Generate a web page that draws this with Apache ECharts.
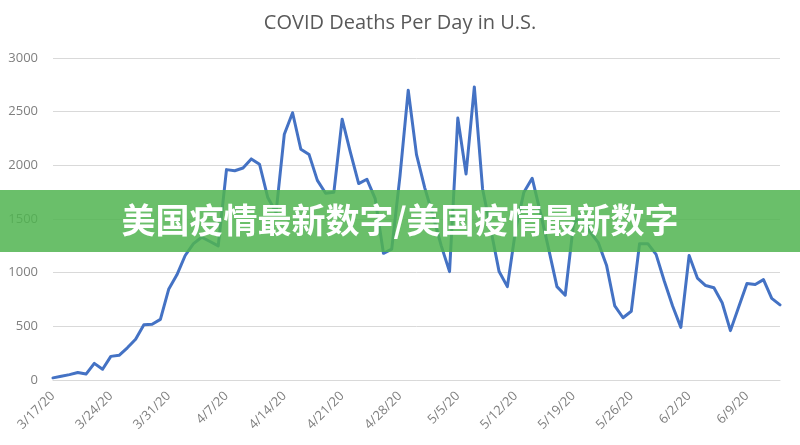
<!DOCTYPE html>
<html>
<head>
<meta charset="utf-8">
<script src="https://cdn.jsdelivr.net/npm/echarts@6/dist/echarts.min.js"></script>
<style>
html,body{margin:0;padding:0;background:#fff;}
#chart{width:800px;height:445px;}
</style>
</head>
<body>
<div id="chart"></div>
<script>
const titleText = 'COVID Deaths Per Day in U.S.';
const bannerText = '美国疫情最新数字/美国疫情最新数字';
const dates = [
'3/17/20','3/18/20','3/19/20','3/20/20','3/21/20','3/22/20','3/23/20','3/24/20','3/25/20','3/26/20','3/27/20','3/28/20','3/29/20','3/30/20','3/31/20',
'4/1/20','4/2/20','4/3/20','4/4/20','4/5/20','4/6/20','4/7/20','4/8/20','4/9/20','4/10/20','4/11/20','4/12/20','4/13/20','4/14/20','4/15/20',
'4/16/20','4/17/20','4/18/20','4/19/20','4/20/20','4/21/20','4/22/20','4/23/20','4/24/20','4/25/20','4/26/20','4/27/20','4/28/20','4/29/20','4/30/20',
'5/1/20','5/2/20','5/3/20','5/4/20','5/5/20','5/6/20','5/7/20','5/8/20','5/9/20','5/10/20','5/11/20','5/12/20','5/13/20','5/14/20','5/15/20',
'5/16/20','5/17/20','5/18/20','5/19/20','5/20/20','5/21/20','5/22/20','5/23/20','5/24/20','5/25/20','5/26/20','5/27/20','5/28/20','5/29/20','5/30/20','5/31/20',
'6/1/20','6/2/20','6/3/20','6/4/20','6/5/20','6/6/20','6/7/20','6/8/20','6/9/20','6/10/20','6/11/20','6/12/20','6/13/20'
];
const deaths = [
20,35,50,70,55,155,100,220,230,300,380,515,520,565,845,
980,1160,1270,1330,1290,1250,1960,1950,1975,2060,2010,1700,1560,2290,2490,
2150,2100,1860,1740,1750,2430,2120,1830,1870,1690,1180,1220,1900,2700,2100,
1790,1530,1250,1010,2440,1920,2730,1780,1400,1010,870,1400,1750,1880,1560,
1220,870,790,1450,1550,1380,1280,1070,690,580,640,1270,1270,1170,920,690,
490,1160,950,880,860,720,460,680,900,890,935,760,700
];
const yTicks = [0, 500, 1000, 1500, 2000, 2500, 3000];

const chart = echarts.init(document.getElementById('chart'), null, {renderer:'canvas'});
const font = '"Open Sans", "Liberation Sans", sans-serif';
chart.setOption({
  animation: false,
  backgroundColor: '#ffffff',
  title: {
    text: titleText,
    left: 'center',
    top: 8,
    textStyle: {fontFamily: font, fontSize: 20, fontWeight: 'normal', color: '#595959'}
  },
  grid: {left: 53, right: 20, top: 58, bottom: 65, containLabel: false},
  xAxis: {
    type: 'category',
    data: dates,
    boundaryGap: false,
    axisLine: {show: true, lineStyle: {color: '#d9d9d9', width: 1}},
    axisTick: {show: false},
    splitLine: {show: false},
    axisLabel: {
      interval: 6,
      rotate: 45,
      margin: 14,
      color: '#7f7f7f',
      fontFamily: font,
      fontSize: 13
    }
  },
  yAxis: {
    type: 'value',
    min: yTicks[0],
    max: yTicks[yTicks.length - 1],
    interval: 500,
    axisLine: {show: false},
    axisTick: {show: false},
    splitLine: {lineStyle: {color: '#d9d9d9', width: 1}},
    axisLabel: {margin: 15, color: '#7f7f7f', fontFamily: font, fontSize: 13,
      formatter: function (v) { return String(v); }}
  },
  series: [{
    type: 'line',
    data: deaths,
    symbol: 'none',
    smooth: false,
    lineStyle: {color: '#4472c4', width: 3, join: 'round', cap: 'round'},
    z: 2
  }],
  graphic: [
    {
      type: 'rect',
      left: 0,
      top: 190,
      shape: {width: 800, height: 62},
      style: {fill: 'rgba(80,180,80,0.85)'},
      z: 100
    },
    {
      type: 'text',
      left: 'center',
      top: 203,
      style: {
        text: bannerText,
        fill: '#ffffff',
        font: 'bold 34px "Noto Sans CJK SC", sans-serif'
      },
      z: 101
    }
  ]
});
</script>
</body>
</html>
